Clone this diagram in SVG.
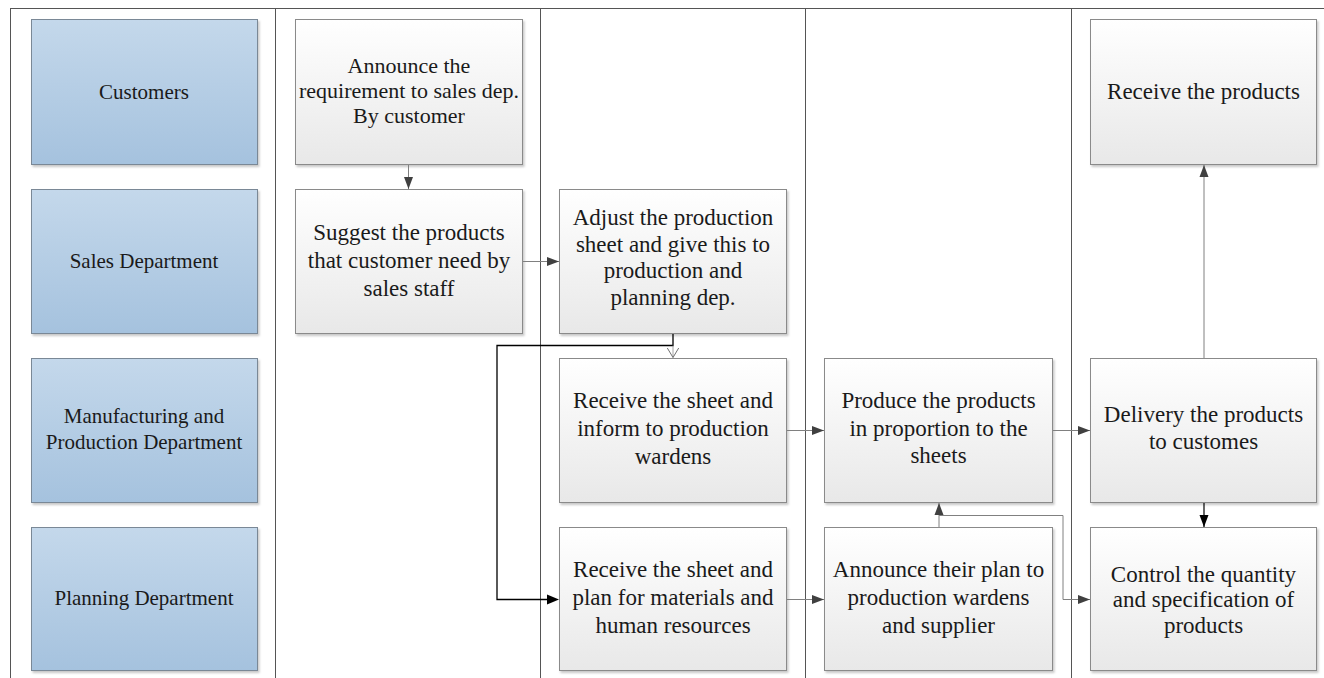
<svg xmlns="http://www.w3.org/2000/svg" width="1324" height="678" viewBox="0 0 1324 678">
<defs>
<linearGradient id="gBlue" x1="0" y1="0" x2="0" y2="1">
<stop offset="0" stop-color="#c4d8eb"/>
<stop offset="1" stop-color="#a5c2de"/>
</linearGradient>
<linearGradient id="gGray" x1="0" y1="0" x2="0" y2="1">
<stop offset="0" stop-color="#ffffff"/>
<stop offset="1" stop-color="#e8e8e8"/>
</linearGradient>
<filter id="sh" x="-5%" y="-5%" width="115%" height="115%">
<feDropShadow dx="1.5" dy="2" stdDeviation="1.2" flood-color="#000" flood-opacity="0.22"/>
</filter>
<marker id="ah" viewBox="0 0 12 12" refX="12" refY="6" markerWidth="12" markerHeight="12" markerUnits="userSpaceOnUse" orient="auto">
<path d="M0,1.5 L12,6 L0,10.5 Z" fill="#404040"/>
</marker>
<marker id="ahb" viewBox="0 0 12 12" refX="12" refY="6" markerWidth="12" markerHeight="12" markerUnits="userSpaceOnUse" orient="auto">
<path d="M0,1.5 L12,6 L0,10.5 Z" fill="#000"/>
</marker>
<marker id="aho" viewBox="0 0 10 12" refX="10" refY="6" markerWidth="10" markerHeight="12" markerUnits="userSpaceOnUse" orient="auto">
<path d="M0,0 L10,6 L0,12" fill="none" stroke="#707070" stroke-width="1"/>
</marker>
</defs>
<style>
.lane{fill:url(#gBlue);stroke:#7a8896;stroke-width:1;filter:url(#sh)}
.box{fill:url(#gGray);stroke:#8a8a8a;stroke-width:1;filter:url(#sh)}
.frame{stroke:#555;stroke-width:1;fill:none}
text{font-family:'Liberation Serif','Times New Roman',serif;fill:#1a1a1a;text-anchor:middle}
.t{font-size:23px}
.t2{font-size:22px}
.tl{font-size:21px}
.c{stroke:#808080;stroke-width:1;fill:none;marker-end:url(#ah)}
.cb{stroke:#000;stroke-width:1.3;fill:none}
</style>
<g id="frame">
<line class="frame" x1="10" y1="8.5" x2="1324" y2="8.5"/>
<line class="frame" x1="10.5" y1="8" x2="10.5" y2="678"/>
<line class="frame" x1="275.5" y1="8" x2="275.5" y2="678"/>
<line class="frame" x1="540.5" y1="8" x2="540.5" y2="678"/>
<line class="frame" x1="805.5" y1="8" x2="805.5" y2="678"/>
<line class="frame" x1="1071.5" y1="8" x2="1071.5" y2="678"/>
</g>
<g id="lane-customers">
<rect class="lane" x="31.5" y="19.5" width="226" height="145"/>
<text class="tl" x="144" y="99">Customers</text>
</g>
<g id="lane-sales">
<rect class="lane" x="31.5" y="189.5" width="226" height="144"/>
<text class="tl" x="144" y="268">Sales Department</text>
</g>
<g id="lane-manufacturing">
<rect class="lane" x="31.5" y="358.5" width="226" height="144"/>
<text class="tl" x="144" y="423">Manufacturing and</text>
<text class="tl" x="144" y="449">Production Department</text>
</g>
<g id="lane-planning">
<rect class="lane" x="31.5" y="527.5" width="226" height="143"/>
<text class="tl" x="144" y="605">Planning Department</text>
</g>
<g id="n-announce">
<rect class="box" x="295.5" y="19.5" width="227" height="145"/>
<text class="t2" x="409" y="73">Announce the</text>
<text class="t2" x="409" y="98">requirement to sales dep.</text>
<text class="t2" x="409" y="123">By customer</text>
</g>
<g id="n-suggest">
<rect class="box" x="295.5" y="189.5" width="227" height="144"/>
<text class="t" x="409" y="240">Suggest the products</text>
<text class="t" x="409" y="268">that customer need by</text>
<text class="t" x="409" y="296">sales staff</text>
</g>
<g id="n-adjust">
<rect class="box" x="559.5" y="189.5" width="227" height="144"/>
<text class="t" x="673" y="225">Adjust the production</text>
<text class="t" x="673" y="252">sheet and give this to</text>
<text class="t" x="673" y="278">production and</text>
<text class="t" x="673" y="305">planning dep.</text>
</g>
<g id="n-receive-inform">
<rect class="box" x="559.5" y="358.5" width="227" height="144"/>
<text class="t" x="673" y="408">Receive the sheet and</text>
<text class="t" x="673" y="436">inform to production</text>
<text class="t" x="673" y="464">wardens</text>
</g>
<g id="n-receive-plan">
<rect class="box" x="559.5" y="527.5" width="227" height="143"/>
<text class="t" x="673" y="577">Receive the sheet and</text>
<text class="t" x="673" y="605">plan for materials and</text>
<text class="t" x="673" y="633">human resources</text>
</g>
<g id="n-produce">
<rect class="box" x="824.5" y="358.5" width="228" height="144"/>
<text class="t" x="938.5" y="408">Produce the products</text>
<text class="t" x="938.5" y="436">in proportion to the</text>
<text class="t" x="938.5" y="463">sheets</text>
</g>
<g id="n-announce-plan">
<rect class="box" x="824.5" y="527.5" width="228" height="143"/>
<text class="t" x="938.5" y="577">Announce their plan to</text>
<text class="t" x="938.5" y="605">production wardens</text>
<text class="t" x="938.5" y="633">and supplier</text>
</g>
<g id="n-receive-products">
<rect class="box" x="1090.5" y="19.5" width="226" height="145"/>
<text class="t" x="1203.5" y="99">Receive the products</text>
</g>
<g id="n-delivery">
<rect class="box" x="1090.5" y="358.5" width="226" height="144"/>
<text class="t" x="1203.5" y="422">Delivery the products</text>
<text class="t" x="1203.5" y="449">to customes</text>
</g>
<g id="n-control">
<rect class="box" x="1090.5" y="527.5" width="226" height="143"/>
<text class="t" x="1203.5" y="582">Control the quantity</text>
<text class="t" x="1203.5" y="607">and specification of</text>
<text class="t" x="1203.5" y="633">products</text>
</g>
<g id="connectors">
<path class="c" d="M408.5,165 V189"/>
<path class="c" d="M523,261.5 H559"/>
<path class="cb" d="M673,334 V345.5 H497 V599.5 H547"/>
<path d="M547,594.5 L559,599.5 L547,604.5 Z" fill="#000"/>
<path d="M673,345.5 V357.5" stroke="#909090" stroke-width="0.8" fill="none" marker-end="url(#aho)"/>
<path class="c" d="M787,430.5 H824"/>
<path class="c" d="M787,599.5 H824"/>
<path class="c" d="M939,527 V503"/>
<path class="c" d="M939,515.5 H1063 V599.5 H1090"/>
<path class="c" d="M1053,430.5 H1090"/>
<path class="c" d="M1204,358 V165"/>
<path d="M1204,503 V527" stroke="#000" stroke-width="1.2" fill="none" marker-end="url(#ahb)"/>
</g>
</svg>
